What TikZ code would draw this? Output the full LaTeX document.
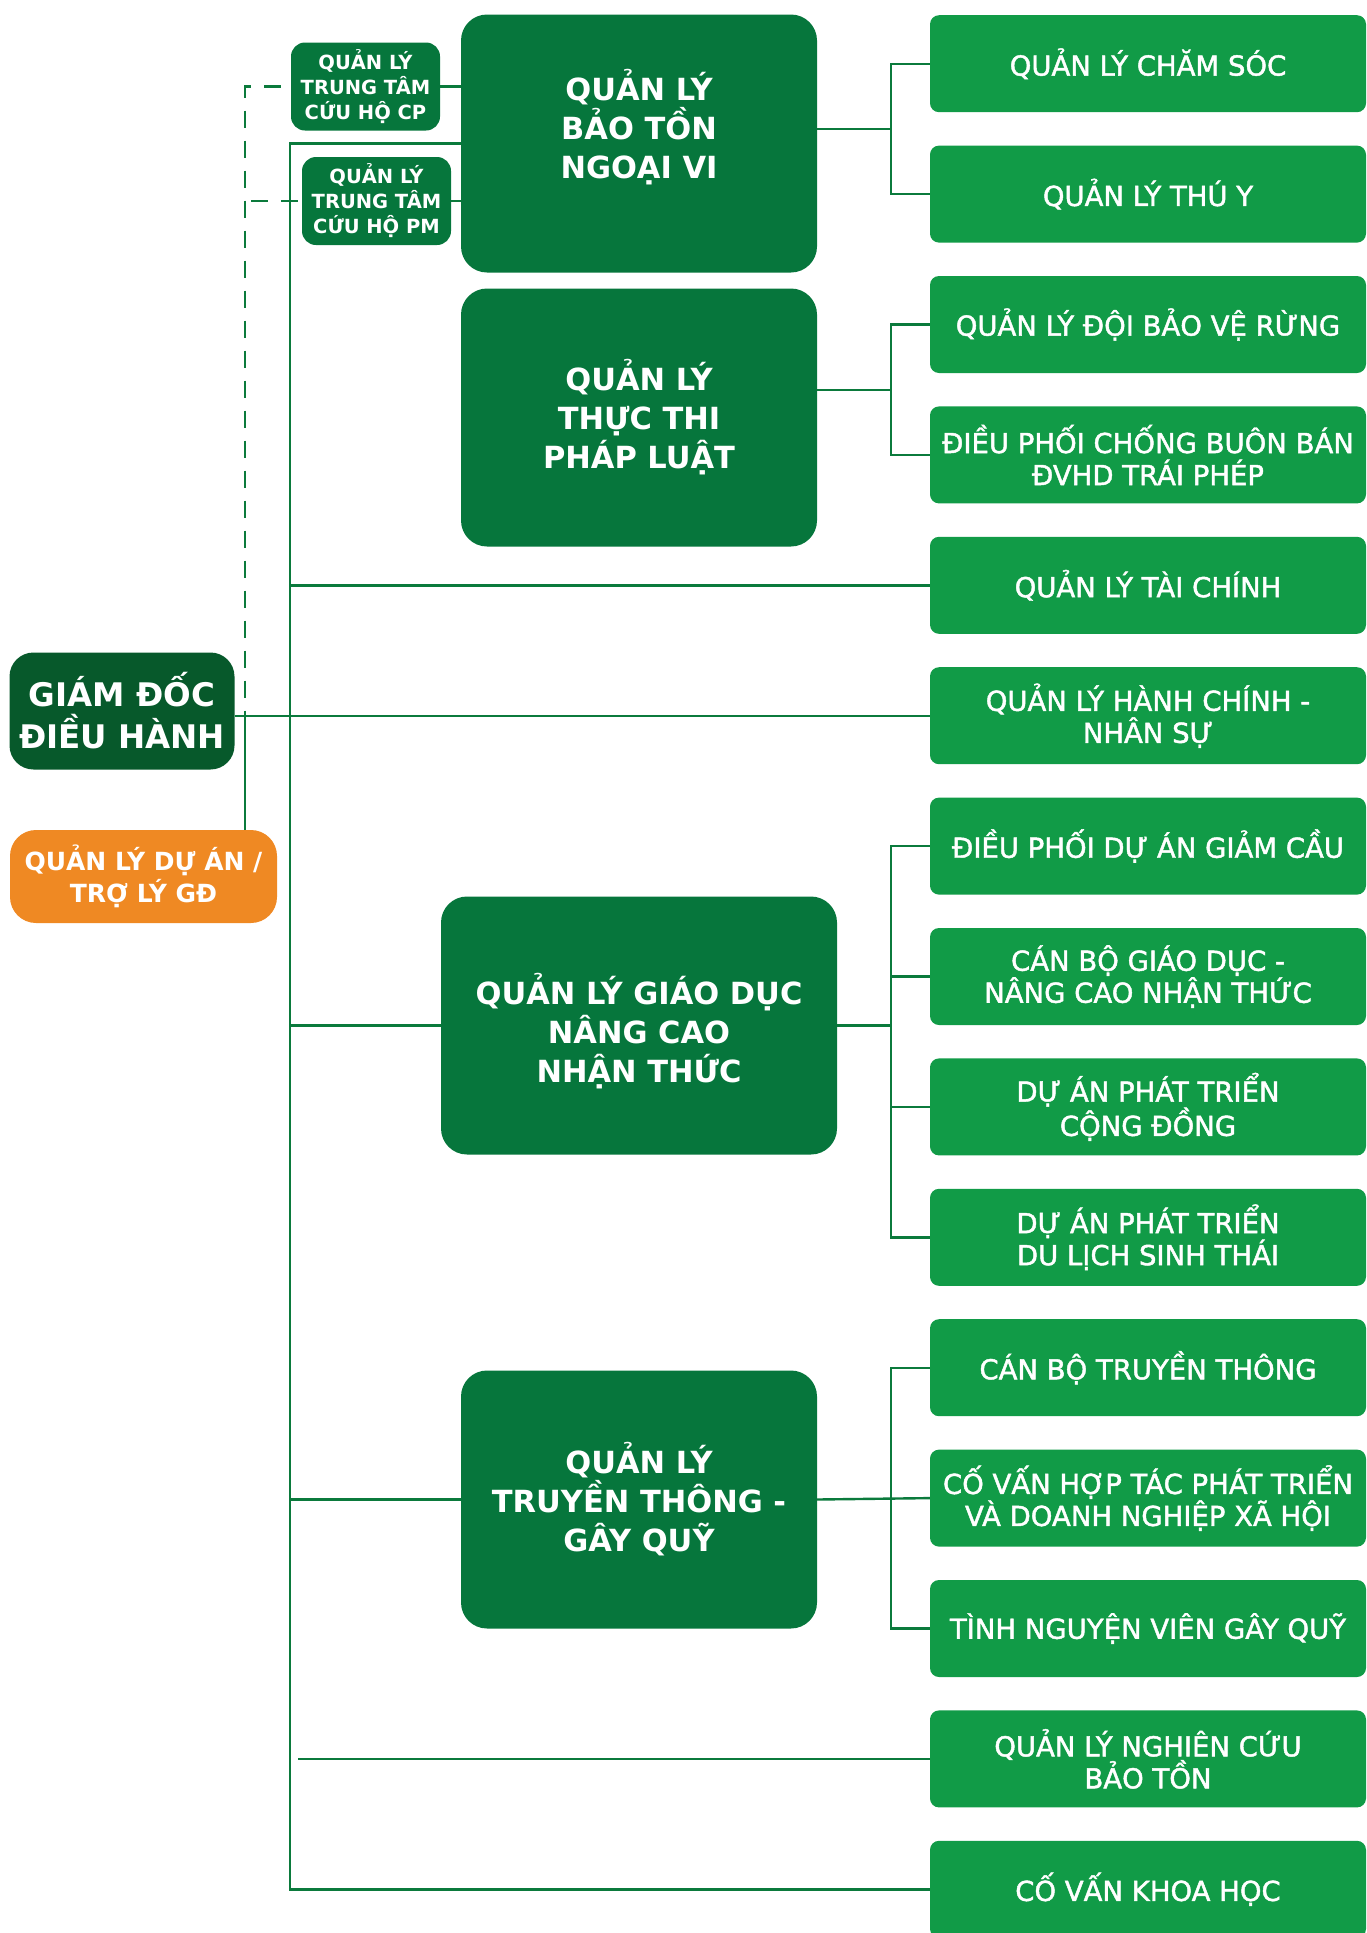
\documentclass[tikz,border=0pt]{standalone}
\usepackage{fontspec}
\setmainfont{DejaVu Sans}
\newfontfamily\medfont[FakeBold=1.6]{DejaVu Sans}
\usepackage{tikz}
\usetikzlibrary{positioning,calc}

\definecolor{mainGreen}{HTML}{06763C}
\definecolor{darkGreen}{HTML}{07592B}
\definecolor{subGreen}{HTML}{119B47}
\definecolor{lineGreen}{HTML}{0B7A3C}
\definecolor{projOrange}{HTML}{EF8923}

\tikzset{
  box/.style={rectangle, text=white, align=center, inner sep=0pt},
  sub/.style={box, fill=subGreen, rounded corners=9pt, minimum width=436pt, minimum height=97pt,
    font=\medfont\fontsize{27.5}{32}\selectfont},
  head/.style={box, fill=mainGreen, rounded corners=26pt, minimum width=356pt, minimum height=258pt},
  headtext/.style={box, font=\bfseries\fontsize{30.5}{39}\selectfont},
  centre/.style={box, fill=mainGreen, rounded corners=14pt, minimum width=149pt, minimum height=88pt,
    font=\bfseries\fontsize{19.5}{25}\selectfont},
  link/.style={draw=lineGreen, line width=2.4pt},
  dashlink/.style={link, dash pattern=on 17pt off 13pt}
}

\begin{document}
\begin{tikzpicture}[x=1pt, y=-1pt]
        \useasboundingbox (0,0) rectangle (1366,1933);
        \clip (0,0) rectangle (1366,1933);

        % Director and assistant
        \node (gd) [box, fill=darkGreen, rounded corners=24pt, minimum width=225pt, minimum height=117pt,
          font=\bfseries\fontsize{32.5}{42}\selectfont] at (122,711) {GIÁM ĐỐC\\ĐIỀU HÀNH};
        \node (pa) [box, fill=projOrange, rounded corners=26pt, minimum width=267pt, minimum height=93pt,
          font=\bfseries\fontsize{25}{32}\selectfont] at (143.5,876.5) {QUẢN LÝ DỰ ÁN /\\TRỢ LÝ GĐ};

        % Department heads
        \node (bt) [head] at (639,143.5) {};
        \node (tt) [head] at (639,417.5) {};
        \node (gdnc) [head, minimum width=396pt] at (639,1025.5) {};
        \node (tg) [head] at (639,1499.5) {};
        \node [headtext] at ([yshift=16pt]bt.center) {QUẢN LÝ\\BẢO TỒN\\NGOẠI VI};
        \node [headtext] at (tt.center) {QUẢN LÝ\\THỰC THI\\PHÁP LUẬT};
        \node [headtext] at ([yshift=-6pt]gdnc.center) {QUẢN LÝ GIÁO DỤC\\NÂNG CAO\\NHẬN THỨC};
        \node [headtext] at (tg.center) {QUẢN LÝ\\TRUYỀN THÔNG -\\GÂY QUỸ};

        % Rescue centres
        \node (cp) [centre] at (365.5,86.5) {QUẢN LÝ\\TRUNG TÂM\\CỨU HỘ CP};
        \node (pm) [centre] at (376.5,201) {QUẢN LÝ\\TRUNG TÂM\\CỨU HỘ PM};

        % Staff column
        \foreach \txt [count=\i] in {QUẢN LÝ CHĂM SÓC, QUẢN LÝ THÚ Y, QUẢN LÝ ĐỘI BẢO VỆ RỪNG,
            {ĐIỀU PHỐI CHỐNG BUÔN BÁN\\ĐVHD TRÁI PHÉP}, QUẢN LÝ TÀI CHÍNH, {QUẢN LÝ HÀNH CHÍNH -\\NHÂN SỰ},
            ĐIỀU PHỐI DỰ ÁN GIẢM CẦU, {CÁN BỘ GIÁO DỤC -\\NÂNG CAO NHẬN THỨC}, {DỰ ÁN PHÁT TRIỂN\\CỘNG ĐỒNG},
            {DỰ ÁN PHÁT TRIỂN\\DU LỊCH SINH THÁI}, CÁN BỘ TRUYỀN THÔNG,
            {CỐ VẤN HỢP TÁC PHÁT TRIỂN\\VÀ DOANH NGHIỆP XÃ HỘI}, TÌNH NGUYỆN VIÊN GÂY QUỸ,
            {QUẢN LÝ NGHIÊN CỨU\\BẢO TỒN}, CỐ VẤN KHOA HỌC}
          \node (r\i) [sub] at (1148,{63.7+(\i-1)*130.4}) {\txt};

        \coordinate (trunk) at (290,0);
        \coordinate (dashx) at (245,0);
        \coordinate (fork) at (891,0);

        % Main trunk
        \draw[link] (bt.west) -| (trunk |- r15.west) -- (r15.west);
        \foreach \n in {r5,gdnc,tg}
          \draw[link] (trunk |- \n.west) -- (\n.west);
        \draw[link] ([xshift=8pt]trunk |- r14.west) -- (r14.west);
        \draw[link] (r6.west -| gd.east) -- (r6.west);
        \draw[link] (pa.north -| dashx) -- (r6.west -| dashx);

        % Rescue centres
        \draw[link] (cp.east) -- (cp.east -| bt.west);
        \draw[link] (pm.east) -- (pm.east -| bt.west);
        \draw[dashlink] ([xshift=-10pt]cp.west) -| (dashx |- r6.west);
        \draw[dashlink] ([xshift=-4pt]pm.west) -- (pm.west -| dashx);

        % Forks to staff
        \coordinate (mbt) at ($(r1.west)!.5!(r2.west)$);
        \coordinate (mtt) at ($(r3.west)!.5!(r4.west)$);
        \draw[link] (bt.east |- mbt) -- (fork |- mbt);
        \draw[link] (r1.west) -| (fork |- r2.west) -- (r2.west);
        \draw[link] (tt.east |- mtt) -- (fork |- mtt);
        \draw[link] (r3.west) -| (fork |- r4.west) -- (r4.west);
        \draw[link] (gdnc.east) -- (fork |- gdnc.east);
        \draw[link] (r7.west) -| (fork |- r10.west) -- (r10.west);
        \foreach \n in {r8,r9}
          \draw[link] (fork |- \n.west) -- (\n.west);
        \draw[link] (tg.east) -- (r12.west);
        \draw[link] (r11.west) -| (fork |- r13.west) -- (r13.west);
    \end{tikzpicture}
\end{document}
